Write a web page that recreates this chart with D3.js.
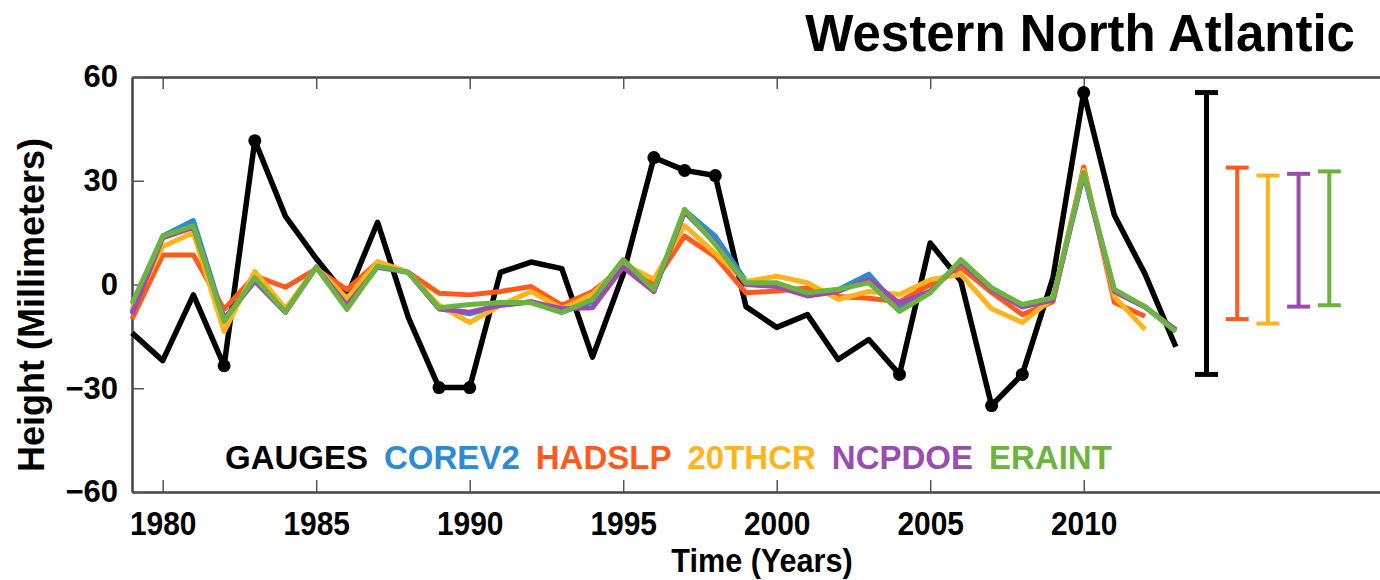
<!DOCTYPE html>
<html>
<head>
<meta charset="utf-8">
<script src="https://cdn.jsdelivr.net/npm/d3@7"></script>
<style>
  body { margin: 0; background: #fff; }
</style>
</head>
<body>
<div id="chart"></div>
<script>
// values, in mm
const years = d3.range(1979, 2014);
const gauges = [-14, -22, -3, -23.5, 41.6, 19.7, 7.5, -3.5, 18, -9.5, -29.8, -29.8, 3.5, 6.5, 4.6, -21, 3, 36.7, 33, 31.5,
                -6.4, -12.4, -8.7, -21.7, -15.9, -26, 12, 1, -35, -26, 2, 55.5, 20, 3, -18];
const corev2 = [-8, 14, 18.5, -10, 1, -8, 5, -6.5, 5.5, 3.5, -7, -8.5, -6, -5, -8, -5, 6.5, -2, 21.5, 14,
                1, 0, -2.5, -1.5, 3, -7, -2, 6.5, -1, -6, -4, 32, -2, -6.5, -13.5];
const hadslp = [-10, 8.5, 8.5, -7.2, 2.5, -0.8, 4.5, -1.5, 6.5, 3.5, -2.5, -3, -2, -0.6, -6, -2, 5, 0.5, 14, 8,
                -2.4, -1.9, -1, -3.5, -4, -5, 0, 4.9, -2.3, -8.7, -5, 34, -5.2, -9.2];
const thcr20 = [-7, 11, 15, -13.6, 3.8, -7, 5, -4, 6.6, 3.5, -6, -11, -6, -2, -7, -2.8, 6, 1.5, 17, 9,
                0.9, 2.4, 0.5, -4.3, -2, -2.9, 1.4, 2.9, -7, -11, -4, 33, -3.5, -13];
const ncpdoe = [-8.5, 13.5, 16.5, -10, 1, -8, 5, -6, 5, 3.5, -7, -8, -6, -5, -7, -6.7, 5, -2, 21, 12,
                0, -0.6, -3.3, -2, 1.5, -5.4, -2, 6.5, -1.5, -6.5, -4.5, 32, -2, -6.5, -13];
const eraint = [-5.5, 14, 17, -10.7, 2, -8, 5, -7.2, 5.3, 3.5, -6.7, -5.8, -5.2, -5.3, -8.1, -4.3, 7.2, -1.5, 21.7, 11.5,
                0.5, 0.5, -2.4, -1.4, 0.5, -7.8, -2.4, 7.2, -1, -5.8, -3.8, 32.4, -1.4, -6.4, -13.6];
// years where the gauge curve carries a dot
const gaugeDots = [1982, 1983, 1989, 1990, 1996, 1997, 1998, 2004, 2007, 2008, 2010];

// range bars at the right
const barYears = [2014, 2015, 2016, 2017, 2018];
const barLow = [-26, -10, -11.3, -6.4, -6];
const barHigh = [55.5, 33.8, 31.5, 32, 32.7];
const barNames = ["GAUGES", "HADSLP", "20THCR", "NCPDOE", "ERAINT"];

const xTicks = [1980, 1985, 1990, 1995, 2000, 2005, 2010];
const yTicks = [-60, -30, 0, 30, 60];

const names = ["GAUGES", "COREV2", "HADSLP", "20THCR", "NCPDOE", "ERAINT"];
const colors = {
  GAUGES: "#000000", COREV2: "#2b8cd3", HADSLP: "#ff5a1e",
  "20THCR": "#ffb41e", NCPDOE: "#9b4cb0", ERAINT: "#6db33f"
};

const seriesValues = [gauges, corev2, hadslp, thcr20, ncpdoe, eraint];
const series = names.map((n, i) => ({
  name: n,
  points: seriesValues[i].map((v, j) => ({year: years[j], value: v}))
}));

const W = 1380, H = 580;
const margin = {left: 132, top: 77, bottom: 492};

const svg = d3.select("#chart")
  .append("svg")
    .attr("width", W)
    .attr("height", H);

const x = d3.scaleLinear()
  .domain([1979, 2020])
  .range([margin.left, margin.left + 41 * 30.7]);

const y = d3.scaleLinear()
  .domain([-60, 60])
  .range([margin.bottom, margin.top]);

const boldFont = "'Liberation Sans', Arial, Helvetica, sans-serif";

// axes
const xAxis = svg.append("g")
  .attr("transform", `translate(0,${margin.bottom})`)
  .call(d3.axisBottom(x).tickValues(xTicks).tickFormat(d3.format("d"))
        .tickSize(-12).tickSizeOuter(0).tickPadding(19));
// the year labels are condensed in the original
xAxis.selectAll("text")
  .attr("font-family", boldFont)
  .attr("font-weight", "bold")
  .attr("font-size", 34)
  .attr("fill", "#000")
  .attr("transform", "scale(0.88,1)");

const xTop = svg.append("g")
  .attr("transform", `translate(0,${margin.top})`)
  .call(d3.axisTop(x).tickValues(xTicks).tickFormat("")
        .tickSize(-12).tickSizeOuter(0));

const yAxis = svg.append("g")
  .attr("transform", `translate(${margin.left},0)`)
  .call(d3.axisLeft(y).tickValues(yTicks)
        .tickSize(-12).tickSizeOuter(0).tickPadding(14));
yAxis.selectAll("text")
  .attr("font-family", boldFont)
  .attr("font-weight", "bold")
  .attr("font-size", 31)
  .attr("fill", "#000");

svg.selectAll(".domain")
  .attr("stroke", "#444")
  .attr("stroke-width", 2.5);
svg.selectAll(".tick line")
  .attr("stroke", "#555")
  .attr("stroke-width", 1.5);

// axis titles
svg.append("text")
  .attr("transform", "translate(762,572) scale(0.9,1)")
  .attr("text-anchor", "middle")
  .attr("font-family", boldFont)
  .attr("font-weight", "bold")
  .attr("font-size", 34)
  .text("Time (Years)");

svg.append("text")
  .attr("transform", "translate(44,305) rotate(-90)")
  .attr("text-anchor", "middle")
  .attr("font-family", boldFont)
  .attr("font-weight", "bold")
  .attr("font-size", 36)
  .text("Height (Millimeters)");

svg.append("text")
  .attr("x", 1355)
  .attr("y", 51)
  .attr("text-anchor", "end")
  .attr("font-family", boldFont)
  .attr("font-weight", "bold")
  .attr("font-size", 51)
  .text("Western North Atlantic");

// lines
const line = d3.line()
  .x(d => x(d.year))
  .y(d => y(d.value));

svg.append("g")
  .selectAll("path")
  .data(series)
  .join("path")
    .attr("d", d => line(d.points))
    .attr("fill", "none")
    .attr("stroke", d => colors[d.name])
    .attr("stroke-width", d => d.name == "GAUGES" ? 5.5 : 5)
    .attr("stroke-linejoin", "round");

svg.append("g")
  .selectAll("circle")
  .data(series[0].points.filter(p => gaugeDots.includes(p.year)))
  .join("circle")
    .attr("cx", d => x(d.year))
    .attr("cy", d => y(d.value))
    .attr("r", 6.5)
    .attr("fill", "#000");

// range bars
const bars = svg.append("g")
  .selectAll("g")
  .data(barYears.map((yr, i) => ({year: yr, low: barLow[i], high: barHigh[i], name: barNames[i]})))
  .join("g")
    .attr("stroke", d => colors[d.name])
    .attr("stroke-width", d => d.name == "GAUGES" ? 5 : 4);
bars.append("line")
  .attr("x1", d => x(d.year)).attr("x2", d => x(d.year))
  .attr("y1", d => y(d.low)).attr("y2", d => y(d.high));
bars.append("line")
  .attr("x1", d => x(d.year) - 11.5).attr("x2", d => x(d.year) + 11.5)
  .attr("y1", d => y(d.high)).attr("y2", d => y(d.high));
bars.append("line")
  .attr("x1", d => x(d.year) - 11.5).attr("x2", d => x(d.year) + 11.5)
  .attr("y1", d => y(d.low)).attr("y2", d => y(d.low));

// legend as coloured words
let lx = 225;
names.forEach(n => {
  const t = svg.append("text")
    .attr("x", lx)
    .attr("y", 469)
    .attr("font-family", boldFont)
    .attr("font-weight", "bold")
    .attr("font-size", 33)
    .attr("fill", colors[n])
    .text(n);
  lx += t.node().getComputedTextLength() + 16;
});
</script>
</body>
</html>
